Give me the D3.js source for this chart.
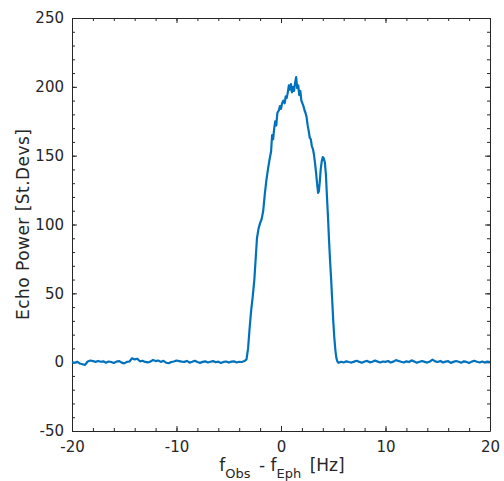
<!DOCTYPE html>
<html>
<head>
<meta charset="utf-8">
<script src="https://cdn.jsdelivr.net/npm/d3@7"></script>
<style>
  body { margin: 0; background: #fff; }
  text { font-family: "DejaVu Sans", sans-serif; fill: #262626; }
</style>
</head>
<body>
<div id="chart"></div>
<script>
// echo spectrum
var freqHz = [
  -20, -19.75, -19.5, -19.25, -19, -18.75, -18.5, -18.25, -18, -17.75, -17.5, -17.25, -17, -16.75, -16.5, -16.25,
  -16, -15.75, -15.5, -15.25, -15, -14.75, -14.5, -14.25, -14, -13.75, -13.5, -13.25, -13, -12.75, -12.5, -12.25,
  -12, -11.75, -11.5, -11.25, -11, -10.75, -10.5, -10.25, -10, -9.75, -9.5, -9.25, -9, -8.75, -8.5, -8.25,
  -8, -7.75, -7.5, -7.25, -7, -6.75, -6.5, -6.25, -6, -5.75, -5.5, -5.25, -5, -4.75, -4.5, -4.25,
  -4, -3.75, -3.5,
  -3.3, -3.15, -3.0, -2.85, -2.7, -2.55, -2.4, -2.3, -2.15, -2.0, -1.85, -1.7, -1.55, -1.4, -1.25, -1.1,
  -0.95, -0.85, -0.75, -0.65, -0.55, -0.45, -0.35, -0.2, -0.1, 0.0, 0.1, 0.22, 0.35, 0.45, 0.55, 0.65,
  0.75, 0.85, 0.95, 1.05, 1.15, 1.25, 1.35, 1.45, 1.55, 1.65, 1.75, 1.85, 1.95, 2.05, 2.15, 2.25,
  2.35, 2.45, 2.55, 2.65, 2.75, 2.85, 2.95, 3.05, 3.15, 3.25, 3.35, 3.45, 3.55, 3.62, 3.7, 3.8,
  3.9, 4.0, 4.1, 4.2, 4.3, 4.4, 4.5, 4.6, 4.7, 4.8, 4.9, 5.0, 5.1, 5.2, 5.3, 5.4,
  5.5, 5.75, 6, 6.25, 6.5, 6.75, 7, 7.25, 7.5, 7.75, 8, 8.25, 8.5, 8.75, 9, 9.25,
  9.5, 9.75, 10, 10.25, 10.5, 10.75, 11, 11.25, 11.5, 11.75, 12, 12.25, 12.5, 12.75, 13, 13.25,
  13.5, 13.75, 14, 14.25, 14.5, 14.75, 15, 15.25, 15.5, 15.75, 16, 16.25, 16.5, 16.75, 17, 17.25,
  17.5, 17.75, 18, 18.25, 18.5, 18.75, 19, 19.25, 19.5, 19.75, 20
];
var echoPower = [
  0, -0.5, 0.3, -1, -1.5, -2, 0.5, 1.2, 0.8, 0.2, 0.9, 0.3, 0.6, -0.4, 0.5, 0.1,
  -0.6, 0.4, 0.8, -0.3, -0.9, 0.2, 0.5, 2.8, 2.0, 2.5, 0.6, 1.0, 0.2, -0.2, 0.4, 1.6,
  0.8, 1.2, 0.2, 1.0, -0.4, -0.8, 0.1, 0.5, 1.2, 0.8, 0.4, 0.2, 0.9, -0.3, 0.3, 1.0,
  0.1, -0.5, 0.2, 0.6, -0.2, 0.3, 0.8, -0.1, 0.4, -0.6, 0.2, 0.5, -0.3, 0.4, 0.6, -0.2,
  0.3, 0.1, 0.8,
  2, 10, 25, 38, 48, 60, 78, 90, 97, 101, 104, 110, 122, 132, 140, 147,
  153, 165, 162, 170, 175, 172, 181, 183, 186, 184, 188, 190, 188, 193, 192, 196,
  201, 198, 202, 196, 200, 197, 203, 207, 199, 201, 194, 197, 190, 188, 186, 183,
  181, 178, 172, 168, 163, 162, 157, 155, 151, 145, 138, 130, 123, 124, 130, 140,
  146, 149, 148, 145, 136, 120, 105, 88, 73, 60, 45, 30, 18, 9, 3, 0.5,
  -0.5, 0.3, -0.2, 0.6, 0.1, -0.3, 0.4, 1.0, 0.2, -0.4, 0.5, 0.9, -0.1, 0.3, 1.2, 0.4,
  -0.2, 0.5, 0.2, 0.8, -0.3, 0.4, 1.5, 0.9, 0.3, -0.2, 0.6, 0.1, 1.3, 0.5, -0.4, 0.3,
  0.8, 0.2, -0.3, 0.5, 1.8, 0.6, 0.1, 0.9, -0.2, 0.4, 0.7, -0.5, 0.2, 0.9, 0.3, -0.4,
  0.6, 0.2, -0.6, 0.4, 1.0, 0.3, -0.2, 0.5, -0.3, 0.4, 0.1
];

var xTicks = [-20, -10, 0, 10, 20];
var yTicks = [-50, 0, 50, 100, 150, 200, 250];
var xMinor = d3.range(-20, 20.01, 2);
var yMinor = d3.range(-50, 250.01, 10);

var margin = {top: 18, right: 14, bottom: 50, left: 72},
    W = 504, H = 481,
    width = W - margin.left - margin.right,
    height = H - margin.top - margin.bottom;

var svg = d3.select("#chart").append("svg")
    .attr("width", W)
    .attr("height", H)
  .append("g")
    .attr("transform", "translate(" + margin.left + "," + margin.top + ")");

var x = d3.scaleLinear().domain([-20, 20]).range([0, width]);
var y = d3.scaleLinear().domain([-50, 250]).range([height, 0]);

var axisCol = "#262626";
var plain = d => String(d); // ascii hyphen for negatives

// minor ticks (inward, all four sides)
function minorAxis(axis, tr) {
  var g = svg.append("g").attr("transform", tr).call(axis);
  g.select(".domain").remove();
  g.selectAll("text").remove();
  g.selectAll("line").attr("stroke", axisCol);
}
minorAxis(d3.axisBottom(x).tickValues(xMinor).tickSize(-3), "translate(0," + height + ")");
minorAxis(d3.axisTop(x).tickValues(xMinor).tickSize(-3), "translate(0,0)");
minorAxis(d3.axisLeft(y).tickValues(yMinor).tickSize(-3), "translate(0,0)");
minorAxis(d3.axisRight(y).tickValues(yMinor).tickSize(-3), "translate(" + width + ",0)");

// major axes
function styleAxis(g, keepText) {
  g.select(".domain").attr("stroke", axisCol);
  g.selectAll(".tick line").attr("stroke", axisCol);
  if (!keepText) g.selectAll("text").remove();
  else g.selectAll("text").style("font-size", "15px").style("fill", axisCol);
}
var xAx = svg.append("g").attr("transform", "translate(0," + height + ")")
  .call(d3.axisBottom(x).tickValues(xTicks).tickFormat(plain).tickSize(-5).tickPadding(10).tickSizeOuter(0));
styleAxis(xAx, true);
styleAxis(svg.append("g").call(d3.axisTop(x).tickValues(xTicks).tickSize(-5).tickSizeOuter(0)), false);
var yAx = svg.append("g")
  .call(d3.axisLeft(y).tickValues(yTicks).tickFormat(plain).tickSize(-5).tickPadding(8).tickSizeOuter(0));
styleAxis(yAx, true);
styleAxis(svg.append("g").attr("transform", "translate(" + width + ",0)")
  .call(d3.axisRight(y).tickValues(yTicks).tickSize(-5).tickSizeOuter(0)), false);

var data = freqHz.map(function(f, i) { return {q: f, p: echoPower[i]}; });

var line = d3.line()
    .x(d => x(d.q))
    .y(d => y(d.p));

svg.append("path")
  .datum(data)
  .attr("fill", "none")
  .attr("stroke", "#0072BD")
  .attr("stroke-width", 2.2)
  .attr("stroke-linejoin", "round")
  .attr("d", line);

// labels
svg.append("text")
  .attr("transform", "translate(" + (-49) + "," + (224.5 - margin.top) + ") rotate(-90)")
  .attr("text-anchor", "middle")
  .attr("dy", "0.35em")
  .attr("textLength", 191)
  .attr("lengthAdjust", "spacing")
  .style("font-size", "17px")
  .text("Echo Power [St.Devs]");

var xl = svg.append("text")
  .attr("x", width / 2 + 1)
  .attr("y", height + 40)
  .attr("text-anchor", "middle")
  .style("font-size", "17px");
xl.append("tspan").text("f");
xl.append("tspan").attr("dy", 7).style("font-size", "13px").text("Obs");
xl.append("tspan").attr("dy", -7).attr("dx", 3).text(" - f");
xl.append("tspan").attr("dy", 7).style("font-size", "13px").text("Eph");
xl.append("tspan").attr("dy", -7).attr("dx", 3).text(" [Hz]");
</script>
</body>
</html>
